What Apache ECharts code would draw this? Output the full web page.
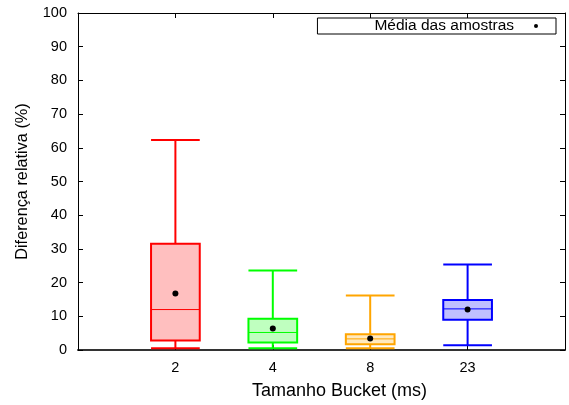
<!DOCTYPE html>
<html>
<head>
<meta charset="utf-8">
<script src="https://cdn.jsdelivr.net/npm/echarts@6/dist/echarts.min.js"></script>
<style>html,body{margin:0;padding:0;background:#fff}#c{width:569px;height:405px}</style>
</head>
<body>
<div id="c"></div>
<script>
var categories = ['2', '4', '8', '23'];
var whiskerLow = [0.5, 0.5, 0.5, 1.4];
var q1Values = [2.8, 2.2, 1.7, 9.0];
var medianValues = [12.0, 5.2, 3.3, 12.2];
var q3Values = [31.5, 9.3, 4.7, 14.8];
var whiskerHigh = [62.3, 23.6, 16.2, 25.4];
var meanValues = [16.8, 6.4, 3.4, 12.0];
var yTicks = [0, 10, 20, 30, 40, 50, 60, 70, 80, 90, 100];

var lineColors = ['#ff0000', '#00ff00', '#ffa500', '#0000ff'];
var fillColors = ['#ffbfbf', '#bfffbf', '#ffe9bf', '#bfbfff'];
var FONT = '"Liberation Sans", Arial, sans-serif';

var boxData = categories.map(function (c, i) {
  return [i + 1, whiskerLow[i], q1Values[i], medianValues[i], q3Values[i], whiskerHigh[i]];
});
var meanData = categories.map(function (c, i) { return [i + 1, meanValues[i]]; });

var chart = echarts.init(document.getElementById('c'));
var xFmt = function (v) { var i = Math.round(v) - 1; return (i >= 0 && i < categories.length) ? categories[i] : ''; };

chart.setOption({
  animation: false,
  backgroundColor: '#fff',
  grid: { left: 78, right: 4, top: 13, bottom: 55 },
  legend: {
    data: ['Média das amostras'],
    right: 13, top: 18,
    align: 'right',
    itemWidth: 4, itemHeight: 4,
    padding: [0, 18, 0, 57],
    borderColor: '#000', borderWidth: 1, borderRadius: 0,
    backgroundColor: '#fff',
    textStyle: { fontSize: 15.5, color: '#000', fontFamily: FONT, padding: [0, 15, 0, 0] }
  },
  xAxis: [{
    type: 'value', min: 0, max: 5, interval: 1, position: 'bottom',
    name: 'Tamanho Bucket (ms)', nameLocation: 'middle', nameGap: 32,
    nameTextStyle: { fontSize: 18, color: '#000', fontFamily: FONT, padding: [0, 0, 0, 36] },
    axisLine: { onZero: false, lineStyle: { color: '#333', width: 2 } },
    axisTick: { inside: true, length: 5, lineStyle: { color: '#000' } },
    axisLabel: { formatter: xFmt, fontSize: 14.5, color: '#000', fontFamily: FONT, margin: 10 },
    splitLine: { show: false }
  }, {
    type: 'value', min: 0, max: 5, interval: 1, position: 'top',
    axisLine: { onZero: false, lineStyle: { color: '#000', width: 1 } },
    axisTick: { inside: true, length: 5, lineStyle: { color: '#000' } },
    axisLabel: { show: false }, splitLine: { show: false }
  }],
  yAxis: [{
    type: 'value', min: yTicks[0], max: yTicks[yTicks.length - 1], interval: 10, position: 'left',
    name: 'Diferença relativa (%)', nameLocation: 'middle', nameGap: 47, nameRotate: 90,
    nameTextStyle: { fontSize: 16.3, color: '#000', fontFamily: FONT },
    axisLine: { show: true, onZero: false, lineStyle: { color: '#000', width: 1 } },
    axisTick: { show: true, inside: true, length: 5, lineStyle: { color: '#000' } },
    axisLabel: { fontSize: 14.5, color: '#000', fontFamily: FONT, margin: 11 },
    splitLine: { show: false }
  }, {
    type: 'value', min: yTicks[0], max: yTicks[yTicks.length - 1], interval: 10, position: 'right',
    axisLine: { show: true, onZero: false, lineStyle: { color: '#000', width: 1 } },
    axisTick: { show: true, inside: true, length: 5, lineStyle: { color: '#000' } },
    axisLabel: { show: false }, splitLine: { show: false }
  }],
  series: [{
    type: 'custom',
    name: 'boxes',
    xAxisIndex: 0, yAxisIndex: 0,
    data: boxData,
    encode: { x: 0, y: [1, 2, 3, 4, 5] },
    renderItem: function (params, api) {
      var x = api.value(0);
      var lo = api.coord([x, api.value(1)]);
      var q1 = api.coord([x, api.value(2)]);
      var md = api.coord([x, api.value(3)]);
      var q3 = api.coord([x, api.value(4)]);
      var hi = api.coord([x, api.value(5)]);
      var half = api.size([0.5, 0])[0] / 2;
      var c = lineColors[params.dataIndex];
      var f = fillColors[params.dataIndex];
      var cx = lo[0];
      var ls = { stroke: c, lineWidth: 2 };
      return {
        type: 'group',
        children: [
          { type: 'line', shape: { x1: cx, y1: q1[1], x2: cx, y2: lo[1] }, style: ls },
          { type: 'line', shape: { x1: cx, y1: q3[1], x2: cx, y2: hi[1] }, style: ls },
          { type: 'line', shape: { x1: cx - half, y1: lo[1], x2: cx + half, y2: lo[1] }, style: ls },
          { type: 'line', shape: { x1: cx - half, y1: hi[1], x2: cx + half, y2: hi[1] }, style: ls },
          { type: 'rect', shape: { x: cx - half, y: q3[1], width: 2 * half, height: q1[1] - q3[1] }, style: { fill: f, stroke: c, lineWidth: 2 } },
          { type: 'line', shape: { x1: cx - half, y1: md[1], x2: cx + half, y2: md[1] }, style: { stroke: c, lineWidth: 1 } }
        ]
      };
    },
    z: 2
  }, {
    type: 'scatter',
    name: 'Média das amostras',
    xAxisIndex: 0, yAxisIndex: 0,
    data: meanData,
    symbol: 'circle', symbolSize: 6,
    itemStyle: { color: '#000', opacity: 1 },
    z: 5
  }]
});
</script>
</body>
</html>
